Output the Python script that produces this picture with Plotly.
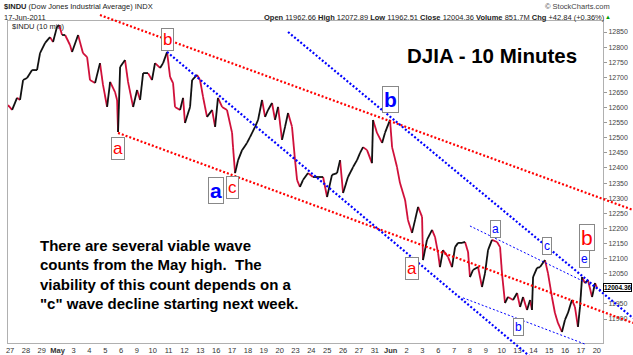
import plotly.graph_objects as go

# ---------------- data ----------------
day_labels = ["27", "28", "29", "May", "3", "4", "5", "6", "9", "10", "11", "12", "13",
              "16", "17", "18", "19", "20", "23", "24", "25", "26", "27", "31", "Jun",
              "2", "3", "6", "7", "8", "9", "10", "13", "14", "15", "16", "17", "20"]

# position in trading sessions since the Apr-27 open
session_pos = [-0.13, 0.13, 0.44, 0.63, 0.82, 1.07, 1.39, 1.70, 1.89, 2.21, 2.52, 2.71, 2.96,
               3.09, 3.28, 3.47, 3.78, 3.91, 4.29, 4.60, 4.86, 5.04, 5.36, 5.67, 5.86, 6.12,
               6.31, 6.62, 6.75, 6.81, 6.94, 7.25, 7.44, 7.76, 8.01, 8.20, 8.39, 8.70, 8.95,
               9.14, 9.46, 9.65, 9.90, 10.09, 10.28, 10.40, 10.72, 10.91, 11.03, 11.35, 11.48,
               11.79, 11.98, 12.17, 12.42, 12.74, 12.93, 13.11, 13.37, 13.68, 14.00, 14.06,
               14.19, 14.38, 14.63, 14.94, 15.13, 15.45, 15.64, 15.89, 16.08, 16.27, 16.52,
               16.71, 16.90, 17.15, 17.34, 17.53, 17.78, 17.97, 18.10, 18.28, 18.47, 18.79,
               19.10, 19.42, 19.74, 19.99, 20.30, 20.62, 20.81, 21.00, 21.31, 21.63, 21.88,
               22.07, 22.26, 22.51, 22.82, 22.89, 23.14, 23.46, 23.64, 23.96, 24.09, 24.40,
               24.59, 24.91, 25.09, 25.35, 25.54, 25.73, 25.98, 26.04, 26.29, 26.61, 26.80,
               26.99, 27.11, 27.30, 27.62, 27.87, 28.06, 28.25, 28.50, 28.69, 28.88, 29.00,
               29.19, 29.51, 29.76, 29.95, 30.14, 30.39, 30.71, 30.90, 31.02, 31.21, 31.40,
               31.72, 31.97, 32.16, 32.35, 32.60, 32.79, 32.91, 32.98, 33.23, 33.42, 33.73,
               33.92, 34.17, 34.36, 34.55, 34.80, 34.99, 35.18, 35.43, 35.62, 35.81, 35.94,
               36.07, 36.25, 36.44, 36.70, 36.89, 37.01]

price = [12608, 12592, 12632, 12625, 12691, 12698, 12724, 12724, 12780, 12814, 12833, 12817, 12867,
         12873, 12840, 12840, 12807, 12784, 12840, 12780, 12767, 12691, 12681, 12747, 12675, 12602,
         12685, 12651, 12625, 12519, 12734, 12757, 12685, 12602, 12658, 12625, 12714, 12714, 12691,
         12747, 12731, 12747, 12784, 12701, 12681, 12602, 12592, 12632, 12549, 12602, 12691,
         12708, 12691, 12635, 12569, 12592, 12536, 12632, 12602, 12592, 12516, 12469,
         12383, 12426, 12459, 12483, 12502, 12536, 12559, 12625, 12569, 12592, 12615,
         12559, 12602, 12493, 12536, 12582, 12536, 12426, 12360, 12337, 12360, 12383,
         12370, 12370, 12370, 12304, 12377, 12383, 12426, 12317, 12370, 12403, 12426,
         12450, 12469, 12459, 12416, 12559, 12516, 12483, 12516, 12559, 12469, 12403,
         12350, 12294, 12228, 12185, 12228, 12271, 12238, 12095, 12162, 12195, 12171,
         12118, 12072, 12128, 12105, 12072, 12138, 12152, 12152, 12155, 12122, 12039,
         12062, 12072, 12006, 12052, 12128, 12162, 12155, 12138, 12052, 11953, 11973,
         11963, 11986, 11940, 11973, 11930, 11963, 11930, 12039, 12069, 12072, 12095,
         12052, 11973, 11920, 11887, 11857, 11897, 11920, 11963, 11940, 11874, 11940,
         12039, 12019, 12029, 11973, 12019, 12004]

y_ticks = list(range(11900, 12851, 50))

# analyst trend lines: (session_start, price_start, session_end, price_end)
red_channel_upper = (5.67, 12906, 39.28, 12261)
red_channel_lower = (6.81, 12516, 39.28, 11887)
blue_channel_lower = (9.90, 12784, 33.42, 11748)
blue_channel_upper = (17.53, 12850, 39.28, 11903)
triangle_upper = (29.00, 12208, 37.39, 11993)
triangle_lower = (28.56, 11970, 36.25, 11817)

header_quote = ("<b>Open</b> 11962.66 <b>High</b> 12072.89 <b>Low</b> 11962.51 "
                "<b>Close</b> 12004.36 <b>Volume</b> 851.7M <b>Chg</b> +42.84 (+0.36%)")
last_close = 12004.36

comment_lines = ["There are several viable wave",
                 "counts from the May high.  The",
                 "viability of this count depends on a",
                 "\"c\" wave decline starting next week."]

# ---------------- styling ----------------
FONT = "Liberation Sans, Arial, sans-serif"
XR = [-0.13, 37.39]
YR = [11820.6, 12886.4]
RED = "#ff0000"
BLUE = "#0000ff"

fig = go.Figure()

# price path, coloured by direction like StockCharts bars
up_x, up_y, dn_x, dn_y = [], [], [], []
for i in range(1, len(price)):
    if price[i] >= price[i - 1]:
        up_x += [session_pos[i - 1], session_pos[i], None]
        up_y += [price[i - 1], price[i], None]
    else:
        dn_x += [session_pos[i - 1], session_pos[i], None]
        dn_y += [price[i - 1], price[i], None]

fig.add_trace(go.Scatter(x=dn_x, y=dn_y, mode="lines",
                         line=dict(color="#d0103a", width=1.8), hoverinfo="skip"))
fig.add_trace(go.Scatter(x=up_x, y=up_y, mode="lines",
                         line=dict(color="#111111", width=1.8), hoverinfo="skip"))


def fx(d):
    return (d - XR[0]) / (XR[1] - XR[0])


def fy(p):
    return (p - YR[0]) / (YR[1] - YR[0])


shapes = []
for seg, col, w in [(red_channel_upper, RED, 2.2), (red_channel_lower, RED, 2.2),
                    (blue_channel_lower, BLUE, 2.2), (blue_channel_upper, BLUE, 2.2),
                    (triangle_upper, BLUE, 1), (triangle_lower, BLUE, 1)]:
    d0, p0, d1, p1 = seg
    shapes.append(dict(type="line", xref="x domain", yref="y domain",
                       x0=fx(d0), y0=fy(p0), x1=fx(d1), y1=fy(p1),
                       line=dict(color=col, width=w, dash="2px,2px")))

annotations = []


def wave(text, d, p, color, size):
    annotations.append(dict(x=d, y=p, xref="x", yref="y", xanchor="center", yanchor="middle",
                            text=text, showarrow=False,
                            font=dict(family=FONT, size=size, color=color),
                            bgcolor="white", bordercolor="#888888", borderwidth=1, borderpad=1))


wave("a", 6.81, 12463, RED, 17)
wave("b", 9.90, 12824, RED, 17)
wave("<b>a</b>", 12.99, 12327, BLUE, 21)
wave("c", 14.00, 12334, RED, 17)
wave("<b>b</b>", 23.96, 12625, BLUE, 21)
wave("a", 25.35, 12066, RED, 17)
wave("a", 30.64, 12198, BLUE, 12)
wave("b", 32.03, 11874, BLUE, 12)
wave("c", 33.86, 12142, BLUE, 12)
wave("d", 34.36, 11807, BLUE, 12)
wave("e", 36.25, 12099, BLUE, 12)
wave("b", 36.38, 12171, RED, 21)

# title
annotations.append(dict(x=0.8134, y=0.8944, xref="paper", yref="paper", xanchor="center",
                        yanchor="middle", text="<b>DJIA - 10 Minutes</b>",
                        showarrow=False, font=dict(family=FONT, size=20.5, color="black")))

# comment text
for i, line in enumerate(comment_lines):
    annotations.append(dict(x=0.0504, y=(343 - (245 + 19.5 * i)) / 322, xref="paper", yref="paper",
                            xanchor="left", yanchor="middle", text="<b>" + line + "</b>",
                            showarrow=False, font=dict(family=FONT, size=15, color="black")))

# header texts
annotations += [
    dict(x=-0.0101, y=1.0435, xref="paper", yref="paper", xanchor="left", yanchor="middle",
         text="<b>$INDU</b> (Dow Jones Industrial Average) INDX", showarrow=False,
         font=dict(family=FONT, size=7.5, color="#222")),
    dict(x=-0.0101, y=1.0124, xref="paper", yref="paper", xanchor="left", yanchor="middle",
         text="17-Jun-2011", showarrow=False, font=dict(family=FONT, size=7.5, color="#222")),
    dict(x=1.015, y=1.0435, xref="paper", yref="paper", xanchor="right", yanchor="middle",
         text="© StockCharts.com", showarrow=False, font=dict(family=FONT, size=7.5, color="#444")),
    dict(x=1.007, y=1.0124, xref="paper", yref="paper", xanchor="right", yanchor="middle",
         text=header_quote, showarrow=False, font=dict(family=FONT, size=7.5, color="#222")),
    dict(x=1.016, y=1.0124, xref="paper", yref="paper", xanchor="right", yanchor="middle",
         text="▲", showarrow=False, font=dict(family=FONT, size=6, color="#00a000")),
    dict(x=0.003, y=0.984, xref="paper", yref="paper", xanchor="left", yanchor="middle",
         text="$INDU (10 min)", showarrow=False, font=dict(family=FONT, size=7.5, color="#222")),
    dict(x=1.0487, y=last_close, xref="paper", yref="y", xanchor="right", yanchor="middle",
         text="<b>%.2f</b>" % last_close, showarrow=False, bgcolor="white", bordercolor="black",
         borderwidth=1, borderpad=0, font=dict(family=FONT, size=6.5, color="black")),
]

# the 12000 label sits under the last-price box in the reference
y_ticktext = ["" if v == 12000 else str(v) for v in y_ticks]

fig.update_layout(
    width=633, height=355, margin=dict(l=8, r=30, t=21, b=12, autoexpand=False),
    paper_bgcolor="white", plot_bgcolor="white", showlegend=False,
    shapes=shapes, annotations=annotations,
    xaxis=dict(range=XR, tickmode="array", tickvals=list(range(len(day_labels))),
               ticktext=["<b>%s</b>" % t if t in ("May", "Jun") else t for t in day_labels],
               automargin=False,
               showgrid=False, zeroline=False, showline=True, linecolor="#b0b0b0", mirror=True,
               ticks="", tickfont=dict(family=FONT, size=7.5, color="#333")),
    yaxis=dict(range=YR, side="right", tickmode="array", tickvals=y_ticks, ticktext=y_ticktext,
               automargin=False,
               showgrid=False, zeroline=False, showline=True, linecolor="#b0b0b0", mirror=True,
               ticks="outside", ticklen=3, tickcolor="#999",
               tickfont=dict(family=FONT, size=7, color="#444")),
)

# the page's default 8px body margin would shift the fixed-size figure
fig.write_html("out.html", config={"displayModeBar": False},
               post_script="document.body.style.margin='0';document.body.style.overflow='hidden';")
